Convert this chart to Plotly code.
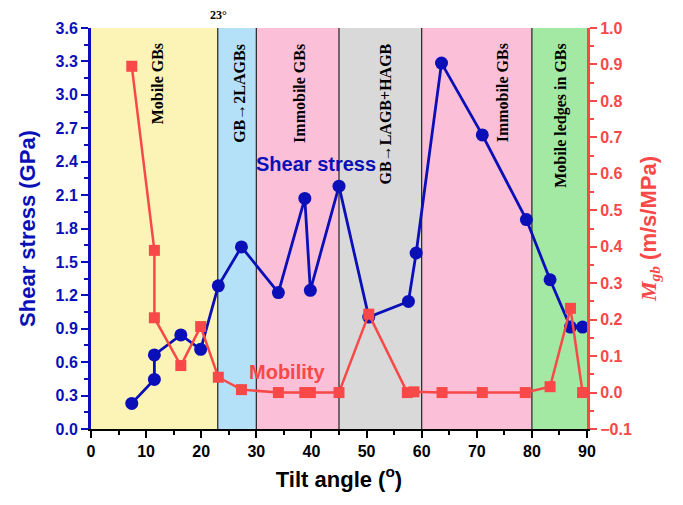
import plotly.graph_objects as go

# ---- data ----
shear_angle = [7.4, 11.5, 11.5, 16.3, 19.9, 23.1, 27.3, 34.0, 38.8, 39.8, 45.0, 50.4, 57.6, 59.0, 63.6, 71.0, 79.0, 83.3, 87.0, 89.2]
shear_stress = [0.23, 0.445, 0.665, 0.845, 0.715, 1.285, 1.635, 1.225, 2.07, 1.245, 2.18, 1.005, 1.145, 1.58, 3.285, 2.64, 1.88, 1.34, 0.915, 0.915]

mob_angle = [7.4, 11.5, 11.5, 16.3, 19.9, 23.1, 27.3, 34.0, 38.8, 39.8, 45.0, 50.4, 57.4, 58.6, 63.7, 71.0, 78.8, 83.3, 87.0, 89.2]
mobility = [0.895, 0.39, 0.205, 0.074, 0.181, 0.042, 0.008, 0.0, 0.0, 0.0, 0.0, 0.215, 0.0, 0.002, 0.0, 0.0, 0.0, 0.016, 0.231, 0.0]

region_edges = [0, 23, 30, 45, 60, 80, 90]
region_labels = ["Mobile GBs", "GB\u21922LAGBs", "Immobile GBs", "GB\u2192LAGB+HAGB", "Immobile GBs", "Mobile ledges in GBs"]
region_label_x = [12.0, 26.8, 37.7, 53.4, 74.6, 85.3]
region_colors = ["#FCF3B6", "#B4E1F8", "#FBBFD8", "#D9D9D9", "#FBBFD8", "#A3E9A3"]

BLUE = "#0A0FB8"
RED = "#F84848"

fig = go.Figure()

fig.add_trace(go.Scatter(
    x=shear_angle, y=shear_stress, mode="lines+markers", xaxis="x", yaxis="y",
    line=dict(color=BLUE, width=2.8),
    marker=dict(symbol="circle", size=13, color=BLUE),
    showlegend=False, cliponaxis=False))

fig.add_trace(go.Scatter(
    x=mob_angle, y=mobility, mode="lines+markers", xaxis="x", yaxis="y2",
    line=dict(color=RED, width=2.5),
    marker=dict(symbol="square", size=11, color=RED),
    showlegend=False, cliponaxis=False))

shapes = []
annotations = []
for i in range(len(region_labels)):
    shapes.append(dict(type="rect", xref="x", yref="paper", x0=region_edges[i], x1=region_edges[i + 1],
                       y0=0, y1=1, fillcolor=region_colors[i], line=dict(width=0), layer="below"))
    annotations.append(dict(x=region_label_x[i], xref="x", y=0.966, yref="paper", yanchor="top",
                            xanchor="center", text="<b>" + region_labels[i] + "</b>", textangle=-90,
                            showarrow=False, font=dict(family="Liberation Serif", size=16, color="black")))
for e in region_edges[1:-1]:
    shapes.append(dict(type="line", xref="x", yref="paper", x0=e, x1=e, y0=0, y1=1,
                       line=dict(color="#222222", width=1.2), layer="below"))

annotations.append(dict(x=23.2, xref="x", y=1.0, yref="paper", yanchor="bottom", yshift=4,
                        text="<b>23\u00b0</b>", showarrow=False,
                        font=dict(family="Liberation Serif", size=12, color="black")))
annotations.append(dict(x=40.8, xref="x", y=2.38, yref="y", text="<b>Shear stress</b>", showarrow=False,
                        font=dict(family="Liberation Sans", size=20, color=BLUE)))
annotations.append(dict(x=35.5, xref="x", y=0.51, yref="y", text="<b>Mobility</b>", showarrow=False,
                        font=dict(family="Liberation Sans", size=20, color=RED)))

fig.update_layout(
    width=683, height=505,
    margin=dict(l=91, r=96, t=28, b=76),
    paper_bgcolor="white", plot_bgcolor="white",
    shapes=shapes, annotations=annotations,
    font=dict(family="Liberation Sans"),
    xaxis=dict(range=[0, 90], dtick=10, tick0=0, showgrid=False, zeroline=False,
               showline=True, linecolor="black", linewidth=2,
               ticks="outside", ticklen=7, tickwidth=2, tickcolor="black",
               minor=dict(ticks="outside", ticklen=4, tickwidth=2, dtick=5, tickcolor="black"),
               tickfont=dict(family="Liberation Sans", size=16, color="black", weight="bold"),
               title=dict(text="<b>Tilt angle (<sup>o</sup>)</b>", standoff=12,
                          font=dict(family="Liberation Sans", size=22, color="black"))),
    xaxis2=dict(range=[0, 90], overlaying="x", side="top", anchor="y", showgrid=False, zeroline=False,
                showline=True, linecolor="black", linewidth=2, dtick=10,
                ticks="inside", ticklen=7, tickwidth=2, tickcolor="black", showticklabels=False,
                minor=dict(ticks="inside", ticklen=4, tickwidth=2, dtick=5, tickcolor="black")),
    yaxis=dict(range=[0, 3.6], dtick=0.3, tick0=0, tickformat=".1f", showgrid=False, zeroline=False,
               showline=True, linecolor=BLUE, linewidth=3,
               ticks="outside", ticklen=7, tickwidth=2, tickcolor=BLUE,
               minor=dict(ticks="outside", ticklen=4, tickwidth=2, dtick=0.15, tickcolor=BLUE),
               tickfont=dict(family="Liberation Sans", size=16, color=BLUE, weight="bold"),
               title=dict(text="<b>Shear stress (GPa)</b>", standoff=14,
                          font=dict(family="Liberation Sans", size=22, color=BLUE))),
    yaxis2=dict(range=[-0.1, 1.0], dtick=0.1, tick0=0, tickformat=".1f", overlaying="y", side="right",
                showgrid=False, zeroline=False,
                showline=True, linecolor=RED, linewidth=3,
                ticks="outside", ticklen=7, tickwidth=2, tickcolor=RED,
                minor=dict(ticks="outside", ticklen=4, tickwidth=2, dtick=0.05, tickcolor=RED),
                tickfont=dict(family="Liberation Sans", size=16, color=RED, weight="bold"),
                title=dict(text="<span style='font-family:Liberation Serif'><b><i>M</i><sub><i>gb</i></sub></b></span><b> (m/s/MPa)</b>",
                           standoff=10, font=dict(family="Liberation Sans", size=22, color=RED))),
)

fig.write_html("out.html")
